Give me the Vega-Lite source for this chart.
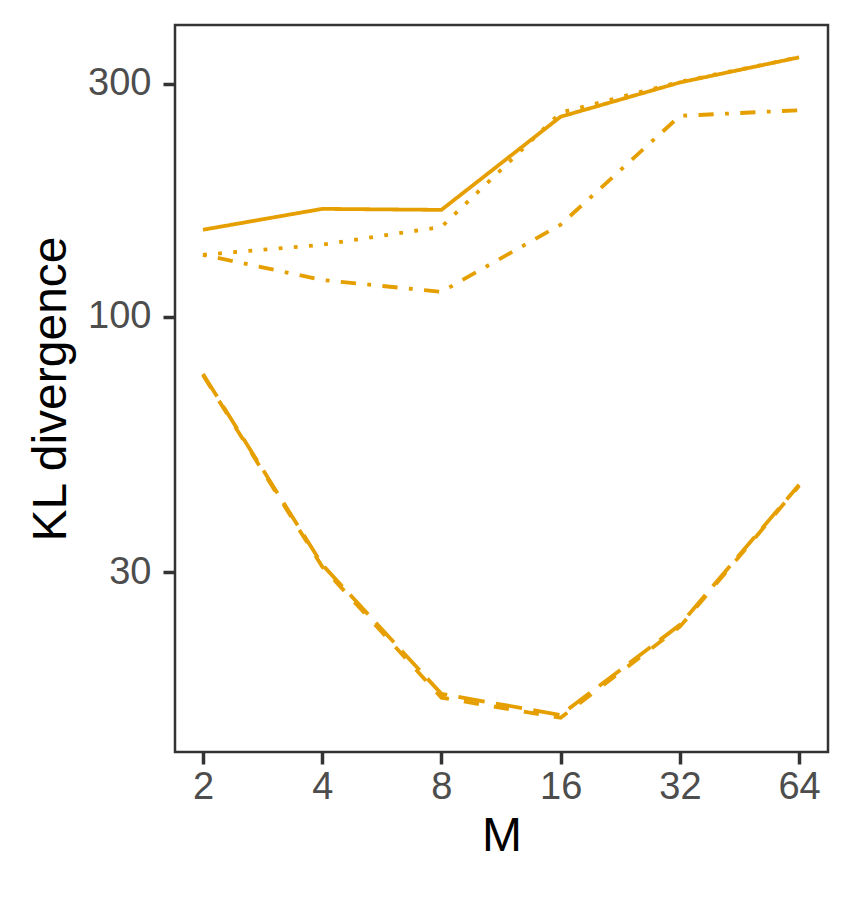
{
  "$schema": "https://vega.github.io/schema/vega-lite/v6.json",
  "width": 653,
  "height": 727,
  "autosize": {"type": "none"},
  "padding": {"left": 175, "top": 25, "right": 27, "bottom": 148},
  "background": "white",
  "view": {"stroke": "#333333", "strokeWidth": 2.5},
  "config": {
    "font": "Liberation Sans",
    "axis": {
      "grid": false,
      "domain": false,
      "tickColor": "#333333",
      "tickWidth": 3.5,
      "tickSize": 12,
      "labelFont": "Liberation Sans",
      "labelFontSize": 38,
      "labelColor": "#4D4D4D",
      "titleFont": "Liberation Sans",
      "titleFontSize": 48,
      "titleFontWeight": "normal",
      "titleColor": "black"
    }
  },
  "data": {
    "values": [
      {"M": 2, "KL": 150.8, "method": "solid"},
      {"M": 4, "KL": 166.4, "method": "solid"},
      {"M": 8, "KL": 165.6, "method": "solid"},
      {"M": 16, "KL": 257, "method": "solid"},
      {"M": 32, "KL": 302, "method": "solid"},
      {"M": 64, "KL": 340, "method": "solid"},
      {"M": 2, "KL": 134, "method": "dotted"},
      {"M": 4, "KL": 140.5, "method": "dotted"},
      {"M": 8, "KL": 152.8, "method": "dotted"},
      {"M": 16, "KL": 262, "method": "dotted"},
      {"M": 32, "KL": 303, "method": "dotted"},
      {"M": 64, "KL": 340, "method": "dotted"},
      {"M": 2, "KL": 134, "method": "dotdash"},
      {"M": 4, "KL": 119, "method": "dotdash"},
      {"M": 8, "KL": 112.5, "method": "dotdash"},
      {"M": 16, "KL": 154.5, "method": "dotdash"},
      {"M": 32, "KL": 258, "method": "dotdash"},
      {"M": 64, "KL": 265, "method": "dotdash"},
      {"M": 2, "KL": 76, "method": "dashed"},
      {"M": 4, "KL": 30.8, "method": "dashed"},
      {"M": 8, "KL": 16.6, "method": "dashed"},
      {"M": 16, "KL": 15.1, "method": "dashed"},
      {"M": 32, "KL": 23.2, "method": "dashed"},
      {"M": 64, "KL": 45.1, "method": "dashed"},
      {"M": 2, "KL": 76.4, "method": "longdash"},
      {"M": 4, "KL": 31.1, "method": "longdash"},
      {"M": 8, "KL": 16.9, "method": "longdash"},
      {"M": 16, "KL": 15.3, "method": "longdash"},
      {"M": 32, "KL": 23.4, "method": "longdash"},
      {"M": 64, "KL": 45.3, "method": "longdash"}
    ]
  },
  "mark": {"type": "line", "color": "#E69F00", "strokeWidth": 3.8, "clip": true},
  "encoding": {
    "x": {
      "field": "M",
      "type": "quantitative",
      "scale": {"type": "log", "base": 2, "domain": [1.7, 75.7], "nice": false, "zero": false},
      "axis": {"values": [2, 4, 8, 16, 32, 64], "labelPadding": 4, "titlePadding": 6, "format": "d"},
      "title": "M"
    },
    "y": {
      "field": "KL",
      "type": "quantitative",
      "scale": {"type": "log", "domain": [12.85, 396], "nice": false, "zero": false},
      "axis": {"values": [30, 100, 300], "labelPadding": 12, "titlePadding": 12, "format": "d"},
      "title": "KL divergence"
    },
    "strokeDash": {
      "field": "method",
      "type": "nominal",
      "scale": {
        "domain": ["solid", "dotted", "dotdash", "dashed", "longdash"],
        "range": [[1, 0], [3.8, 11.4], [3.8, 11.4, 15.2, 11.4], [15.2, 15.2], [26.6, 11.4]]
      },
      "legend": null
    },
    "detail": {"field": "method"}
  }
}
